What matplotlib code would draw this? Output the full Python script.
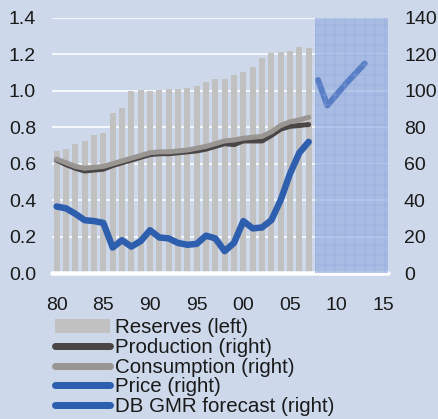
import matplotlib
matplotlib.use("Agg")
import matplotlib.pyplot as plt
from matplotlib.patches import Patch
from matplotlib.lines import Line2D

DPI = 120
def P(px):
    return px * 72.0 / DPI

plt.rcParams['font.family'] = ['Liberation Sans', 'DejaVu Sans']
plt.rcParams['hatch.linewidth'] = P(1.0)

# ---------------- data ----------------
years = [1980, 1981, 1982, 1983, 1984, 1985, 1986, 1987, 1988, 1989,
         1990, 1991, 1992, 1993, 1994, 1995, 1996, 1997, 1998, 1999,
         2000, 2001, 2002, 2003, 2004, 2005, 2006, 2007]
reserves = [0.67, 0.68, 0.71, 0.725, 0.76, 0.77, 0.88, 0.905, 1.00, 1.005,
            1.00, 1.005, 1.01, 1.01, 1.015, 1.027, 1.05, 1.063, 1.065, 1.087,
            1.105, 1.13, 1.18, 1.21, 1.215, 1.22, 1.24, 1.235]
production = [62, 59.5, 57.5, 56, 56.5, 57, 59, 60.5, 62, 63.5,
              65, 65.5, 65.5, 66, 66.5, 67, 68, 69.5, 71, 70.5,
              72.5, 72.5, 72.5, 75.5, 79, 80.5, 81, 81.5]
consumption = [62.5, 60.5, 58.5, 57.5, 58, 58.5, 60, 61.5, 63, 64.5,
               66, 66.5, 66.5, 67, 67.5, 68.5, 69.5, 71, 72.5, 73,
               74, 74.5, 75, 77.5, 81, 83, 84, 85.5]
price = [36.5, 35.5, 32.5, 29, 28.5, 27.5, 14, 18, 14.5, 17.5,
         23.5, 19.5, 19, 16.5, 15.5, 16, 20.5, 19, 12, 16.5,
         28.5, 24.5, 25, 29, 40, 54.5, 66, 72]
fc_years = [2008, 2009, 2010, 2011, 2012, 2013]
forecast = [106, 92, 98, 104, 109.5, 115]
forecast_start = 2007.65

xtick_pos = [1980, 1985, 1990, 1995, 2000, 2005, 2010, 2015]
xtick_labels = ['80', '85', '90', '95', '00', '05', '10', '15']
left_ticks = [0.0, 0.2, 0.4, 0.6, 0.8, 1.0, 1.2, 1.4]
right_ticks = [0, 20, 40, 60, 80, 100, 120, 140]

# ---------------- colours ----------------
BG = '#cdd8ea'
BAR = '#c1c1c1'
PROD = '#4b4646'
CONS = '#989593'
PRICE = '#2e5fae'
FCAST = '#5a7ec6'
SHADE = '#98b0e1'

fig = plt.figure(figsize=(438 / DPI, 419 / DPI), dpi=DPI, facecolor=BG)
ax = fig.add_axes([52 / 438, 1 - 273 / 419, (388 - 52) / 438, (273 - 18) / 419])
ax.set_facecolor(BG)
ax.set_xlim(1979.5, 2015.5)
ax.set_ylim(0, 1.4)
ax.set_axisbelow(True)
ax.grid(axis='y', color='white', lw=P(1.6))
ax.grid(axis='x', visible=False)
for s in ax.spines.values():
    s.set_visible(False)

ax.bar(years, reserves, width=0.64, color=BAR, zorder=2)
ax.axhline(0, color='white', lw=P(4.5), solid_capstyle='round', clip_on=False, zorder=3)

ax.set_yticks(left_ticks)
ax.set_yticklabels(['%.1f' % v for v in left_ticks])
ax.set_xticks(xtick_pos)
ax.set_xticklabels(xtick_labels)
ax.tick_params(axis='y', length=0, pad=P(16), labelsize=P(19.5), colors='#1a1a1a')
ax.tick_params(axis='x', length=0, pad=P(24), labelsize=P(19.5), colors='#1a1a1a')

ax2 = ax.twinx()
ax2.set_ylim(0, 140)
ax2.set_yticks(right_ticks)
ax2.tick_params(axis='y', length=0, pad=P(16), labelsize=P(19.5), colors='#1a1a1a')
for s in ax2.spines.values():
    s.set_visible(False)

lkw = dict(solid_capstyle='round', solid_joinstyle='round')
ax2.plot(years, production, color=PROD, lw=P(5), zorder=3, **lkw)
ax2.plot(years, consumption, color=CONS, lw=P(5), zorder=4, **lkw)
ax2.plot(years, price, color=PRICE, lw=P(6.5), zorder=5, **lkw)

ax2.axvspan(forecast_start, 2015.5, color=SHADE, alpha=0.7, lw=0, zorder=1)
ax2.plot(fc_years, forecast, color=FCAST, lw=P(6), zorder=2, **lkw)
ax2.axvspan(forecast_start, 2015.5, facecolor='none',
            edgecolor=(0.55, 0.66, 0.88, 0.4), hatch='++', lw=0, zorder=2.5)

handles = [
    Patch(facecolor=BAR, edgecolor='none'),
    Line2D([], [], color=PROD, lw=P(7), solid_capstyle='round'),
    Line2D([], [], color=CONS, lw=P(7), solid_capstyle='round'),
    Line2D([], [], color=PRICE, lw=P(7), solid_capstyle='round'),
    Line2D([], [], color=PRICE, lw=P(7), solid_capstyle='round'),
]
labels = ['Reserves (left)', 'Production (right)', 'Consumption (right)',
          'Price (right)', 'DB GMR forecast (right)']
fig.legend(handles, labels, loc='upper left',
           bbox_to_anchor=(55 / 438, 1 - 318 / 419),
           frameon=False, fontsize=P(20.5), borderpad=0, borderaxespad=0,
           handlelength=2.7, handletextpad=0.25, labelspacing=0.04,
           handleheight=0.65, labelcolor='#1a1a1a')

fig.savefig('out.png', dpi=DPI, facecolor=BG)
